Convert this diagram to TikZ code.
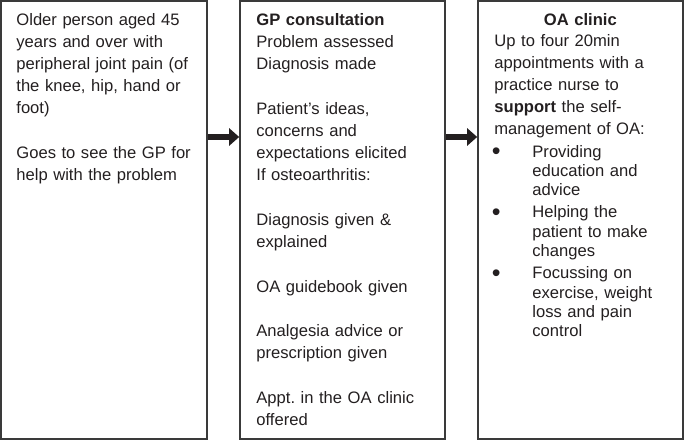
\documentclass[tikz,border=0pt]{standalone}
\usepackage{fontspec}
\setmainfont{Liberation Sans}
\usetikzlibrary{arrows.meta,positioning,calc}
\definecolor{ink}{HTML}{231F20}
\definecolor{frame}{HTML}{3A3A3A}
\newcommand{\oabullet}{\noindent\hangindent=38pt\hangafter=1\makebox[38pt][l]{\hspace{-2.5pt}\raisebox{-2.8pt}{\fontsize{25}{25}\selectfont\textbullet}}}

\begin{document}
\begin{tikzpicture}[x=1pt,y=1pt,
  box/.style={draw=frame,line width=1.6pt,minimum width=205pt,minimum height=438pt,inner sep=0pt},
  txt/.style={anchor=base west,inner sep=0pt,text=ink,align=left,font=\fontsize{16.6}{22.2}\selectfont},
  flow/.style={-{Triangle[length=10pt,width=17pt]},line width=6.5pt,draw=ink}]
\useasboundingbox (0,0) rectangle (685,441);
\node[box,minimum width=206pt] (L) at (104,221){};
\node[box] (M) at (342.5,221){};
\node[box] (R) at (580.5,221){};
% patient side
\node[txt,text width=186pt] (Lt) at ([shift={(16,-25)}]L.north west){Older person aged 45\\years and over with\\peripheral joint pain (of\\the knee, hip, hand or\\foot)\\[22.2pt]Goes to see the GP for\\help with the problem};
% GP side
\node[txt,text width=186pt,font=\fontsize{16.6}{22.25}\selectfont] (Mt) at ([shift={(17,-25)}]M.north west){\textbf{GP consultation}\\Problem assessed\\Diagnosis made\\[22.25pt]Patient’s ideas,\\concerns and\\expectations elicited\\If osteoarthritis:\\[22.25pt]Diagnosis given \&\\explained\\[22.25pt]OA guidebook given\\[22.25pt]Analgesia advice or\\prescription given\\[22.25pt]Appt.\ in the OA clinic\\offered};
% nurse side
\node[txt,text width=172pt,font=\fontsize{16.6}{22}\selectfont] (Rt) at ([shift={(17,-25)}]R.north west){{\centering\textbf{OA clinic}\par}\vspace{-1pt}Up to four 20min\\appointments with a\\practice nurse to\\\textbf{support} the self-\\management of OA:\par
\fontsize{16.6}{19.4}\selectfont\vspace{3.6pt}\oabullet Providing\newline education and\newline advice\par
\vspace{2.6pt}\oabullet Helping the\newline patient to make\newline changes\par
\vspace{2.6pt}\oabullet Focussing on\newline exercise, weight\newline loss and pain\newline control\par};
\draw[flow] ([yshift=83]L.east) -- ([yshift=83]M.west);
\draw[flow] ([yshift=83]M.east) -- ([yshift=83]R.west);
\end{tikzpicture}
\end{document}
